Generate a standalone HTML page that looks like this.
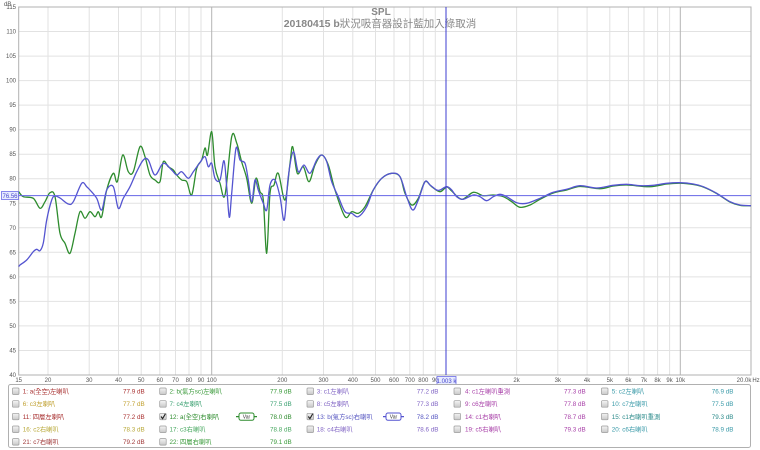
<!DOCTYPE html>
<html><head><meta charset="utf-8">
<style>
html,body{margin:0;padding:0;background:#fff;}
svg{display:block;}
text{font-family:"Liberation Sans","Noto Sans CJK TC",sans-serif;}
.yl{font-size:6px;fill:#555;text-anchor:end;}
.xl{font-size:6px;fill:#555;text-anchor:middle;}
.lg{font-size:6.3px;}
.g{stroke:#e2e2e2;stroke-width:1;}
.gd{stroke:#b4b4b4;stroke-width:1;}
</style></head>
<body>
<svg width="760" height="450" viewBox="0 0 760 450" xmlns="http://www.w3.org/2000/svg">
<rect width="760" height="450" fill="#fff"/>
<g class="g">
<line x1="18.7" x2="751" y1="31.5" y2="31.5"/>
<line x1="18.7" x2="751" y1="56.1" y2="56.1"/>
<line x1="18.7" x2="751" y1="80.6" y2="80.6"/>
<line x1="18.7" x2="751" y1="105.1" y2="105.1"/>
<line x1="18.7" x2="751" y1="129.7" y2="129.7"/>
<line x1="18.7" x2="751" y1="154.2" y2="154.2"/>
<line x1="18.7" x2="751" y1="178.7" y2="178.7"/>
<line x1="18.7" x2="751" y1="203.3" y2="203.3"/>
<line x1="18.7" x2="751" y1="227.8" y2="227.8"/>
<line x1="18.7" x2="751" y1="252.3" y2="252.3"/>
<line x1="18.7" x2="751" y1="276.9" y2="276.9"/>
<line x1="18.7" x2="751" y1="301.4" y2="301.4"/>
<line x1="18.7" x2="751" y1="325.9" y2="325.9"/>
<line x1="18.7" x2="751" y1="350.5" y2="350.5"/>
</g>
<g class="g">
<line x1="48" x2="48" y1="7" y2="375"/>
<line x1="89.2" x2="89.2" y1="7" y2="375"/>
<line x1="118.5" x2="118.5" y1="7" y2="375"/>
<line x1="141.2" x2="141.2" y1="7" y2="375"/>
<line x1="159.8" x2="159.8" y1="7" y2="375"/>
<line x1="175.5" x2="175.5" y1="7" y2="375"/>
<line x1="189" x2="189" y1="7" y2="375"/>
<line x1="201" x2="201" y1="7" y2="375"/>
<line x1="282.3" x2="282.3" y1="7" y2="375"/>
<line x1="323.5" x2="323.5" y1="7" y2="375"/>
<line x1="352.8" x2="352.8" y1="7" y2="375"/>
<line x1="375.5" x2="375.5" y1="7" y2="375"/>
<line x1="394" x2="394" y1="7" y2="375"/>
<line x1="409.8" x2="409.8" y1="7" y2="375"/>
<line x1="423.3" x2="423.3" y1="7" y2="375"/>
<line x1="435.3" x2="435.3" y1="7" y2="375"/>
<line x1="516.6" x2="516.6" y1="7" y2="375"/>
<line x1="557.8" x2="557.8" y1="7" y2="375"/>
<line x1="587.1" x2="587.1" y1="7" y2="375"/>
<line x1="609.8" x2="609.8" y1="7" y2="375"/>
<line x1="628.4" x2="628.4" y1="7" y2="375"/>
<line x1="644" x2="644" y1="7" y2="375"/>
<line x1="657.6" x2="657.6" y1="7" y2="375"/>
<line x1="669.6" x2="669.6" y1="7" y2="375"/>
</g>
<g class="gd">
<line x1="211.7" x2="211.7" y1="7" y2="375"/>
<line x1="680.3" x2="680.3" y1="7" y2="375"/>
</g>
<rect x="18.7" y="7" width="732.3" height="368" fill="none" stroke="#b0b0b0" stroke-width="1"/>

<text x="4" y="6" style="font-size:6px;fill:#555">dB</text>
<g class="yl">
<text x="16" y="9">115</text>
<text x="16" y="33.5">110</text>
<text x="16" y="58.1">105</text>
<text x="16" y="82.6">100</text>
<text x="16" y="107.1">95</text>
<text x="16" y="131.7">90</text>
<text x="16" y="156.2">85</text>
<text x="16" y="180.7">80</text>
<text x="16" y="205.3">75</text>
<text x="16" y="229.8">70</text>
<text x="16" y="254.3">65</text>
<text x="16" y="278.9">60</text>
<text x="16" y="303.4">55</text>
<text x="16" y="327.9">50</text>
<text x="16" y="352.5">45</text>
<text x="16" y="377">40</text>
</g>
<g class="xl">
<text x="18.7" y="382">15</text>
<text x="48" y="382">20</text>
<text x="89.2" y="382">30</text>
<text x="118.5" y="382">40</text>
<text x="141.2" y="382">50</text>
<text x="159.8" y="382">60</text>
<text x="175.5" y="382">70</text>
<text x="189" y="382">80</text>
<text x="201" y="382">90</text>
<text x="211.7" y="382">100</text>
<text x="282.3" y="382">200</text>
<text x="323.5" y="382">300</text>
<text x="352.8" y="382">400</text>
<text x="375.5" y="382">500</text>
<text x="394" y="382">600</text>
<text x="409.8" y="382">700</text>
<text x="423.3" y="382">800</text>
<text x="435.3" y="382">90</text>
<text x="516.6" y="382">2k</text>
<text x="557.8" y="382">3k</text>
<text x="587.1" y="382">4k</text>
<text x="609.8" y="382">5k</text>
<text x="628.4" y="382">6k</text>
<text x="644" y="382">7k</text>
<text x="657.6" y="382">8k</text>
<text x="669.6" y="382">9k</text>
<text x="680.3" y="382">10k</text>
<text x="744" y="382">20.0k</text>
<text x="756" y="382">Hz</text>
</g>

<text x="381" y="15" style="font-size:10px;fill:#888;text-anchor:middle;font-weight:bold">SPL</text>
<text x="380" y="27" style="font-size:10.5px;fill:#888;text-anchor:middle"><tspan font-weight="bold">20180415  b</tspan>狀況吸音器設計藍加入綠取消</text>

<path id="cg" fill="none" stroke="#2e8c2e" stroke-width="1.3" stroke-linejoin="round"/>
<path id="cb" fill="none" stroke="#5454d0" stroke-width="1.3" stroke-linejoin="round"/>

<line x1="18.7" x2="751" y1="195.6" y2="195.6" stroke="#6464e6" stroke-width="1"/>
<line x1="446" x2="446" y1="7" y2="375" stroke="#3c3cd0" stroke-width="1"/>
<rect x="1.5" y="191.5" width="17" height="8" fill="#e8ecff" stroke="#6c6ce6" stroke-width="0.8"/>
<text x="10" y="197.8" style="font-size:6px;fill:#4444cc;text-anchor:middle">76.56</text>
<rect x="437" y="376.5" width="19" height="8" fill="#e8ecff" stroke="#6c6ce6" stroke-width="0.8"/>
<text x="446.5" y="382.8" style="font-size:6px;fill:#4444cc;text-anchor:middle">1.003 k</text>

<rect x="8.5" y="384.5" width="742" height="63" rx="2" fill="#fff" stroke="#b0b0b0" stroke-width="1"/>
<defs>
<linearGradient id="cbx" x1="0" y1="0" x2="0" y2="1"><stop offset="0" stop-color="#f4f4f4"/><stop offset="1" stop-color="#c8c8c8"/></linearGradient>
</defs>
<g fill="url(#cbx)" stroke="#9a9a9a" stroke-width="0.7">
<rect x="12.5" y="388" width="6.5" height="6.5" rx="1"/>
<rect x="12.5" y="400.7" width="6.5" height="6.5" rx="1"/>
<rect x="12.5" y="413.3" width="6.5" height="6.5" rx="1"/>
<rect x="12.5" y="426" width="6.5" height="6.5" rx="1"/>
<rect x="12.5" y="438.6" width="6.5" height="6.5" rx="1"/>
<rect x="159.7" y="388" width="6.5" height="6.5" rx="1"/>
<rect x="159.7" y="400.7" width="6.5" height="6.5" rx="1"/>
<rect x="159.7" y="413.3" width="6.5" height="6.5" rx="1"/>
<rect x="159.7" y="426" width="6.5" height="6.5" rx="1"/>
<rect x="159.7" y="438.6" width="6.5" height="6.5" rx="1"/>
<rect x="307" y="388" width="6.5" height="6.5" rx="1"/>
<rect x="307" y="400.7" width="6.5" height="6.5" rx="1"/>
<rect x="307" y="413.3" width="6.5" height="6.5" rx="1"/>
<rect x="307" y="426" width="6.5" height="6.5" rx="1"/>
<rect x="454" y="388" width="6.5" height="6.5" rx="1"/>
<rect x="454" y="400.7" width="6.5" height="6.5" rx="1"/>
<rect x="454" y="413.3" width="6.5" height="6.5" rx="1"/>
<rect x="454" y="426" width="6.5" height="6.5" rx="1"/>
<rect x="601.5" y="388" width="6.5" height="6.5" rx="1"/>
<rect x="601.5" y="400.7" width="6.5" height="6.5" rx="1"/>
<rect x="601.5" y="413.3" width="6.5" height="6.5" rx="1"/>
<rect x="601.5" y="426" width="6.5" height="6.5" rx="1"/>
</g>
<g fill="none" stroke="#222" stroke-width="1.1">
<path d="M161 416.5 L162.6 418.6 L165.4 413.8"/>
<path d="M308.3 416.5 L309.9 418.6 L312.7 413.8"/>
</g>
<line x1="236" x2="257" y1="416.6" y2="416.6" stroke="#2e8c2e" stroke-width="1.2"/>
<rect x="239" y="413" width="15" height="7.3" rx="2" fill="#fff" stroke="#2e8c2e" stroke-width="1"/>
<text x="246.5" y="418.6" style="font-size:5px;fill:#333;text-anchor:middle">Var</text>
<line x1="383" x2="404" y1="416.6" y2="416.6" stroke="#5454d0" stroke-width="1.2"/>
<rect x="386" y="413" width="15" height="7.3" rx="2" fill="#fff" stroke="#5454d0" stroke-width="1"/>
<text x="393.5" y="418.6" style="font-size:5px;fill:#333;text-anchor:middle">Var</text>

<g class="lg">
<text x="22.7" y="393.5" fill="#a83030">1: a(全空)左喇叭</text>
<text x="123" y="393.5" fill="#a83030">77.9 dB</text>
<text x="22.7" y="406.2" fill="#c0a030">6: c3左喇叭</text>
<text x="123" y="406.2" fill="#c0a030">77.7 dB</text>
<text x="22.7" y="418.8" fill="#a83030">11: 四層左喇叭</text>
<text x="123" y="418.8" fill="#a83030">77.2 dB</text>
<text x="22.7" y="431.5" fill="#b8a838">16: c2右喇叭</text>
<text x="123" y="431.5" fill="#b8a838">78.3 dB</text>
<text x="22.7" y="444.1" fill="#a03838">21: c7右喇叭</text>
<text x="123" y="444.1" fill="#a03838">79.2 dB</text>

<text x="169.5" y="393.5" fill="#3a9a3a">2: b(氣方sc)左喇叭</text>
<text x="270" y="393.5" fill="#3a9a3a">77.9 dB</text>
<text x="169.5" y="406.2" fill="#3aa070">7: c4左喇叭</text>
<text x="270" y="406.2" fill="#3aa070">77.5 dB</text>
<text x="169.5" y="418.8" fill="#2e8c2e">12: a(全空)右喇叭</text>
<text x="270" y="418.8" fill="#2e8c2e">78.0 dB</text>
<text x="169.5" y="431.5" fill="#48a860">17: c3右喇叭</text>
<text x="270" y="431.5" fill="#48a860">78.8 dB</text>
<text x="169.5" y="444.1" fill="#3a9a3a">22: 四層右喇叭</text>
<text x="270" y="444.1" fill="#3a9a3a">79.1 dB</text>

<text x="316.7" y="393.5" fill="#8064c4">3: c1左喇叭</text>
<text x="416.7" y="393.5" fill="#8064c4">77.2 dB</text>
<text x="316.7" y="406.2" fill="#8064c4">8: c5左喇叭</text>
<text x="416.7" y="406.2" fill="#8064c4">77.3 dB</text>
<text x="316.7" y="418.8" fill="#5454c0">13: b(氣方sc)右喇叭</text>
<text x="416.7" y="418.8" fill="#5454c0">78.2 dB</text>
<text x="316.7" y="431.5" fill="#8064c4">18: c4右喇叭</text>
<text x="416.7" y="431.5" fill="#8064c4">78.6 dB</text>

<text x="465" y="393.5" fill="#a840a8">4: c1左喇叭重測</text>
<text x="564" y="393.5" fill="#a840a8">77.3 dB</text>
<text x="465" y="406.2" fill="#a840a8">9: c6左喇叭</text>
<text x="564" y="406.2" fill="#a840a8">77.8 dB</text>
<text x="465" y="418.8" fill="#a840a8">14: c1右喇叭</text>
<text x="564" y="418.8" fill="#a840a8">78.7 dB</text>
<text x="465" y="431.5" fill="#a840a8">19: c5右喇叭</text>
<text x="564" y="431.5" fill="#a840a8">79.3 dB</text>

<text x="611.7" y="393.5" fill="#3a9aa8">5: c2左喇叭</text>
<text x="711.7" y="393.5" fill="#3a9aa8">76.9 dB</text>
<text x="611.7" y="406.2" fill="#3a9aa8">10: c7左喇叭</text>
<text x="711.7" y="406.2" fill="#3a9aa8">77.5 dB</text>
<text x="611.7" y="418.8" fill="#2a8a8a">15: c1右喇叭重測</text>
<text x="711.7" y="418.8" fill="#2a8a8a">79.3 dB</text>
<text x="611.7" y="431.5" fill="#3a9aa8">20: c6右喇叭</text>
<text x="711.7" y="431.5" fill="#3a9aa8">78.9 dB</text>
</g>
</svg>
<script>
function cr(p){
  var d="M"+p[0][0]+" "+p[0][1];
  for(var i=0;i<p.length-1;i++){
    var p0=p[i-1]||p[i],p1=p[i],p2=p[i+1],p3=p[i+2]||p2;
    var c1x=p1[0]+(p2[0]-p0[0])/6,c1y=p1[1]+(p2[1]-p0[1])/6;
    var c2x=p2[0]-(p3[0]-p1[0])/6,c2y=p2[1]-(p3[1]-p1[1])/6;
    d+=" C"+c1x.toFixed(2)+" "+c1y.toFixed(2)+" "+c2x.toFixed(2)+" "+c2y.toFixed(2)+" "+p2[0]+" "+p2[1];
  }
  return d;
}
var blue=[[18.7,266.7],[20,265],[26.7,260],[33.3,251.7],[36.7,249.3],[40,250.7],[43.3,243],[46.7,220],[51.7,200],[55,196],[60,198],[68.3,204],[73.3,201.7],[81.7,183.3],[86.7,186.7],[90,190],[96.7,198.3],[101.7,210],[106.7,190],[113.3,186.7],[118.3,208.3],[123.3,198.3],[130,186.7],[136.7,171.7],[143.3,160],[148.3,160],[155,175],[163.3,163.3],[171.7,170],[176.7,175],[181.7,171.7],[188.3,178.3],[193.3,171.7],[200,162.5],[205,156.7],[208.3,166.7],[211.7,163.3],[215,178.3],[220,180],[224,160.7],[226.7,186.7],[229.3,217.3],[231.7,193.3],[236,148.3],[240,160],[245,163.3],[248.3,180],[251.7,201.7],[255,180],[258.3,190],[263.3,203.3],[266.7,210],[270,185],[275,180],[280,196.7],[284.3,220],[288.3,176.7],[293.3,151.7],[298.3,171.7],[304,165],[310,173.3],[316.7,160],[321.7,155],[326.7,161.7],[331.7,181.7],[338.3,196.7],[345,211.7],[351.7,213.3],[358.3,216.7],[366.7,206.7],[373.3,190],[381.7,178.3],[391.7,173.3],[400,176.7],[406.7,196.7],[412.7,210],[418.3,200],[425,181.7],[430,185],[436.7,190],[440,190],[446.7,186.7],[451.7,190],[456.7,196.7],[463.3,199.3],[473.3,195],[480,196.7],[486.7,200.7],[493.3,196.7],[500,194.3],[506.7,196.7],[516.7,202.7],[526.7,203.3],[540,198.3],[553.3,192.3],[566.7,189.3],[580,185.7],[596.7,188],[613.3,185.3],[626.7,184.3],[640,185.7],[653.3,185.3],[666.7,183.3],[680,182.7],[693.3,184],[703.3,186.7],[716.7,193.3],[730,201.7],[740,205],[751,205.7]];
var green=[[18.7,191.7],[23.3,196.7],[33.3,198.3],[40,208.3],[45,201.7],[50,192.7],[55,196.7],[60,233.3],[65,243.3],[70,253.3],[75,233.3],[80,211.7],[85,218.3],[90,211.7],[95,216.7],[98.3,211.7],[101.7,216.7],[106.7,190],[113.3,173.3],[117.3,181.7],[122.7,155],[128.3,171.7],[133.3,171.7],[140,146.7],[145,156.7],[150,175],[155,180],[160,181.7],[163.3,161.7],[168.3,166.7],[173.3,170],[176.7,175],[181.7,180],[186.7,181.7],[191.7,195],[196.7,168.3],[201.7,160],[205,148],[207.5,155],[211.7,131.7],[215,166.7],[220,183.3],[225,195],[231.7,136.7],[236.7,143],[241.7,162],[246.7,178.3],[251.7,203.3],[256,178.3],[260,191.7],[263.3,200],[266.7,253.3],[270,193.3],[274,185],[278.3,173.3],[285,200],[290,163.3],[292.7,146.7],[297.3,173.3],[303.3,166.7],[309,181.7],[315,165],[321.7,155],[328.3,165],[335,190],[345,216.7],[351.7,211.7],[358.3,213.3],[365,206.7],[373.3,190],[381.7,178.3],[391.7,173.3],[400,176.7],[405,193.3],[411.7,205],[418.3,198.3],[425,181.7],[431.7,186.7],[440,191.7],[446.7,187],[451.7,191],[461.7,199.3],[473.3,192.3],[483.3,195.7],[493.3,195],[503.3,196.7],[511.7,201.7],[520,207.3],[530,205],[540,199.3],[553.3,193],[566.7,190],[580,186.5],[600,188.7],[613.3,186],[626.7,185],[650,186.7],[666.7,184],[680,183.2],[693.3,184.5],[703.3,187],[716.7,193.5],[730,202],[740,205.3],[751,205.8]];
document.getElementById("cb").setAttribute("d",cr(blue));
document.getElementById("cg").setAttribute("d",cr(green));
</script>
</body></html>
